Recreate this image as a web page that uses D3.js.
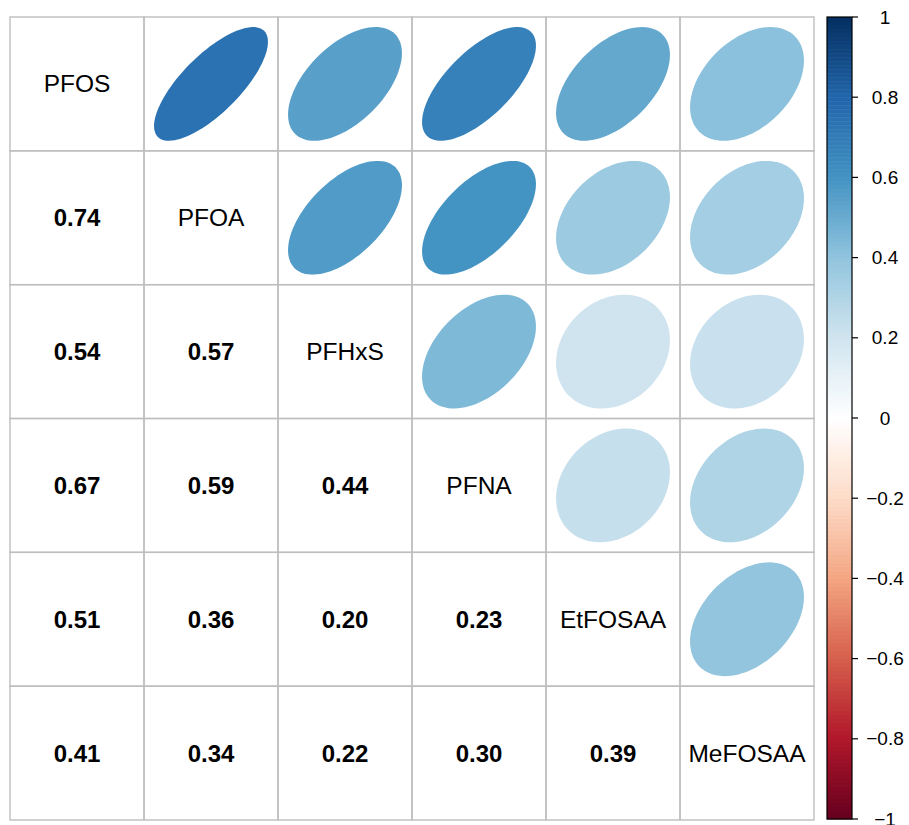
<!DOCTYPE html>
<html>
<head>
<meta charset="utf-8">
<script src="https://cdn.jsdelivr.net/npm/d3@7"></script>
<style>
  html, body { margin: 0; padding: 0; background: #fff; }
  svg { display: block; font-family: "Liberation Sans", Arial, Helvetica, sans-serif; }
</style>
</head>
<body>
<svg id="chart" width="909" height="825"></svg>
<script>
// Compounds, in matrix order
const variables = ["PFOS", "PFOA", "PFHxS", "PFNA", "EtFOSAA", "MeFOSAA"];

// Lower-triangle correlation rows (row i holds correlations with variables 0..i-1)
const corrRows = [
  [],
  [0.74],
  [0.54, 0.57],
  [0.67, 0.59, 0.44],
  [0.51, 0.36, 0.20, 0.23],
  [0.41, 0.34, 0.22, 0.30, 0.39]
];

// Colour legend tick values
const legendTicks = [-1, -0.8, -0.6, -0.4, -0.2, 0, 0.2, 0.4, 0.6, 0.8, 1];

// Diverging red-blue palette anchors
const paletteAnchors = ["#67001F", "#B2182B", "#D6604D", "#F4A582", "#FDDBC7", "#FFFFFF",
                        "#D1E5F0", "#92C5DE", "#4393C3", "#2166AC", "#053061"];
const nColors = 200;

const ramp = d3.scaleLinear()
  .domain(paletteAnchors.map((_, i) => i / (paletteAnchors.length - 1)))
  .range(paletteAnchors)
  .interpolate(d3.interpolateRgb);
const palette = d3.range(nColors).map(i => ramp(i / (nColors - 1)));
const binOf = v => Math.max(0, Math.min(nColors - 1, Math.floor((v + 1) / 2 * nColors)));
const colorOf = v => palette[binOf(v)];

const n = variables.length;
const corr = variables.map((_, i) => variables.map((_, j) => {
  if (i === j) return 1;
  return i > j ? corrRows[i][j] : corrRows[j][i];
}));

const svg = d3.select("#chart");

const x = d3.scaleBand().domain(variables).range([10, 814]);
const y = d3.scaleBand().domain(variables).range([17, 820]);
const cw = x.bandwidth(), ch = y.bandwidth();

const cells = [];
for (let i = 0; i < n; i++) for (let j = 0; j < n; j++) cells.push({ i, j, r: variables[i], c: variables[j], v: corr[i][j] });

// Ellipses for the upper triangle
const ellipsePath = (rho, cx, cy) => {
  const a = Math.acos(rho) / 2;
  const pts = d3.range(99).map(t => {
    const k = t / 98 * 2 * Math.PI;
    return [cx + 0.85 * cw * Math.cos(k + a) / 2, cy - 0.85 * ch * Math.cos(k - a) / 2];
  });
  return d3.line()(pts) + "Z";
};

svg.append("g").selectAll("path")
  .data(cells.filter(d => d.j > d.i))
  .join("path")
  .attr("d", d => ellipsePath(d.v, x(d.c) + cw / 2, y(d.r) + ch / 2))
  .attr("fill", d => colorOf(d.v));

// Grid
const grid = svg.append("g").attr("stroke", "#BEBEBE").attr("stroke-width", 1.4).attr("fill", "none");
grid.selectAll("rect")
  .data(cells)
  .join("rect")
  .attr("x", d => x(d.c))
  .attr("y", d => y(d.r))
  .attr("width", cw)
  .attr("height", ch);

// Diagonal labels
svg.append("g").selectAll("text")
  .data(cells.filter(d => d.i === d.j))
  .join("text")
  .attr("x", d => x(d.c) + cw / 2)
  .attr("y", d => y(d.r) + ch / 2)
  .attr("text-anchor", "middle")
  .attr("dominant-baseline", "central")
  .attr("font-size", 24.5)
  .attr("fill", "#000")
  .text(d => d.r);

// Coefficients in the lower triangle
svg.append("g").selectAll("text")
  .data(cells.filter(d => d.i > d.j))
  .join("text")
  .attr("x", d => x(d.c) + cw / 2)
  .attr("y", d => y(d.r) + ch / 2)
  .attr("text-anchor", "middle")
  .attr("dominant-baseline", "central")
  .attr("font-size", 24)
  .attr("font-weight", "bold")
  .attr("fill", "#000")
  .text(d => d.v.toFixed(2));

// Colour legend
const ly = d3.scaleLinear().domain([-1, 1]).range([819, 17]);
const lx0 = 827, lx1 = 852;
const legend = svg.append("g");
legend.selectAll("rect.band")
  .data(palette)
  .join("rect")
  .attr("class", "band")
  .attr("x", lx0)
  .attr("width", lx1 - lx0)
  .attr("y", (_, k) => ly(-1 + (k + 1) * 2 / nColors))
  .attr("height", (_, k) => ly(-1 + k * 2 / nColors) - ly(-1 + (k + 1) * 2 / nColors) + 0.5)
  .attr("fill", c => c);
legend.append("rect")
  .attr("x", lx0).attr("y", ly(1))
  .attr("width", lx1 - lx0).attr("height", ly(-1) - ly(1))
  .attr("fill", "none").attr("stroke", "#000").attr("stroke-width", 1.2);
legend.selectAll("line.tick")
  .data(legendTicks)
  .join("line")
  .attr("class", "tick")
  .attr("x1", lx1).attr("x2", lx1 + 6)
  .attr("y1", d => ly(d)).attr("y2", d => ly(d))
  .attr("stroke", "#000").attr("stroke-width", 1.2);
legend.selectAll("text")
  .data(legendTicks)
  .join("text")
  .attr("x", 885)
  .attr("y", d => ly(d))
  .attr("text-anchor", "middle")
  .attr("dominant-baseline", "central")
  .attr("font-size", 19)
  .attr("fill", "#000")
  .text(d => d === 0 ? "0" : (d < 0 ? "\u2212" : "") + String(Math.abs(d)));
</script>
</body>
</html>
